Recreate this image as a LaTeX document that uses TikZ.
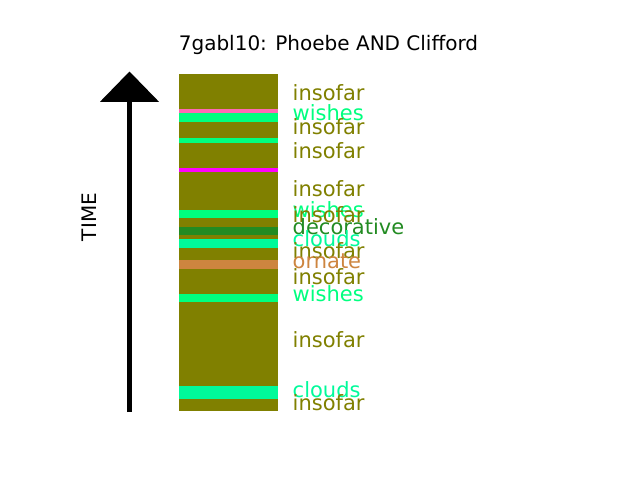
\documentclass[tikz,border=0pt]{standalone}
\usepackage{fontspec}
\setmainfont{DejaVu Sans}
\definecolor{olivec}{RGB}{128,128,0}
\definecolor{hotpinkc}{RGB}{255,105,180}
\definecolor{springc}{RGB}{0,255,127}
\definecolor{mspringc}{RGB}{0,250,154}
\definecolor{magentac}{RGB}{255,0,255}
\definecolor{forestc}{RGB}{34,139,34}
\definecolor{peruc}{RGB}{205,133,63}
\tikzset{
  lbl/.style={anchor=base west, inner sep=0pt, font=\fontsize{21}{24}\selectfont},
  band/.style={draw=none},
}
\begin{document}
\begin{tikzpicture}[x=1pt,y=-1pt]
\useasboundingbox (0,0) rectangle (640,480);
% title
\node[anchor=base, inner sep=0pt, font=\fontsize{20}{24}\selectfont] (title) at (328.5,50) {7gabl10: Phoebe AND Clifford};
% time arrow
\coordinate (abot) at (129.3,412);
\coordinate (atop) at (129.3,101.5);
\draw[line width=4.5pt] (abot) -- (atop);
\fill (100,101.8) -- (159,101.8) -- (129.5,71.5) -- cycle;
\node[rotate=90, inner sep=0pt, font=\fontsize{20}{24}\selectfont] (time) at (89,217) {TIME};
% bar
\fill[olivec] (179,74) rectangle (278,410.5);
\fill[band, hotpinkc] (179,109) rectangle (278,113);
\fill[band, springc] (179,113) rectangle (278,122);
\fill[band, springc] (179,138) rectangle (278,142.5);
\fill[band, magentac] (179,168) rectangle (278,172);
\fill[band, springc] (179,210) rectangle (278,218);
\fill[band, forestc] (179,227) rectangle (278,235);
\fill[band, mspringc] (179,239.3) rectangle (278,248);
\fill[band, peruc] (179,260) rectangle (278,269);
\fill[band, springc] (179,294) rectangle (278,302);
\fill[band, mspringc] (179,385.7) rectangle (278,399);
% labels
\node[lbl, text=olivec] (l1) at (292.5,100) {insofar};
\node[lbl, text=springc] (l2) at (292.5,120) {wishes};
\node[lbl, text=olivec] (l3) at (292.5,134) {insofar};
\node[lbl, text=olivec] (l4) at (292.5,158.5) {insofar};
\node[lbl, text=olivec] (l5) at (292.5,196.8) {insofar};
\node[lbl, text=springc] (l6) at (292.5,217) {wishes};
\node[lbl, text=olivec] (l7) at (292.5,222.7) {insofar};
\node[lbl, text=forestc] (l8) at (292.5,234.3) {decorative};
\node[lbl, text=mspringc] (l9) at (292.5,246) {clouds};
\node[lbl, text=olivec] (l10) at (292.5,258.3) {insofar};
\node[lbl, text=peruc] (l11) at (292.5,268.3) {ornate};
\node[lbl, text=olivec] (l12) at (292.5,284.3) {insofar};
\node[lbl, text=springc] (l13) at (292.5,301) {wishes};
\node[lbl, text=olivec] (l14) at (292.5,347.5) {insofar};
\node[lbl, text=mspringc] (l15) at (292.5,397.5) {clouds};
\node[lbl, text=olivec] (l16) at (292.5,410.5) {insofar};
\end{tikzpicture}
\end{document}
